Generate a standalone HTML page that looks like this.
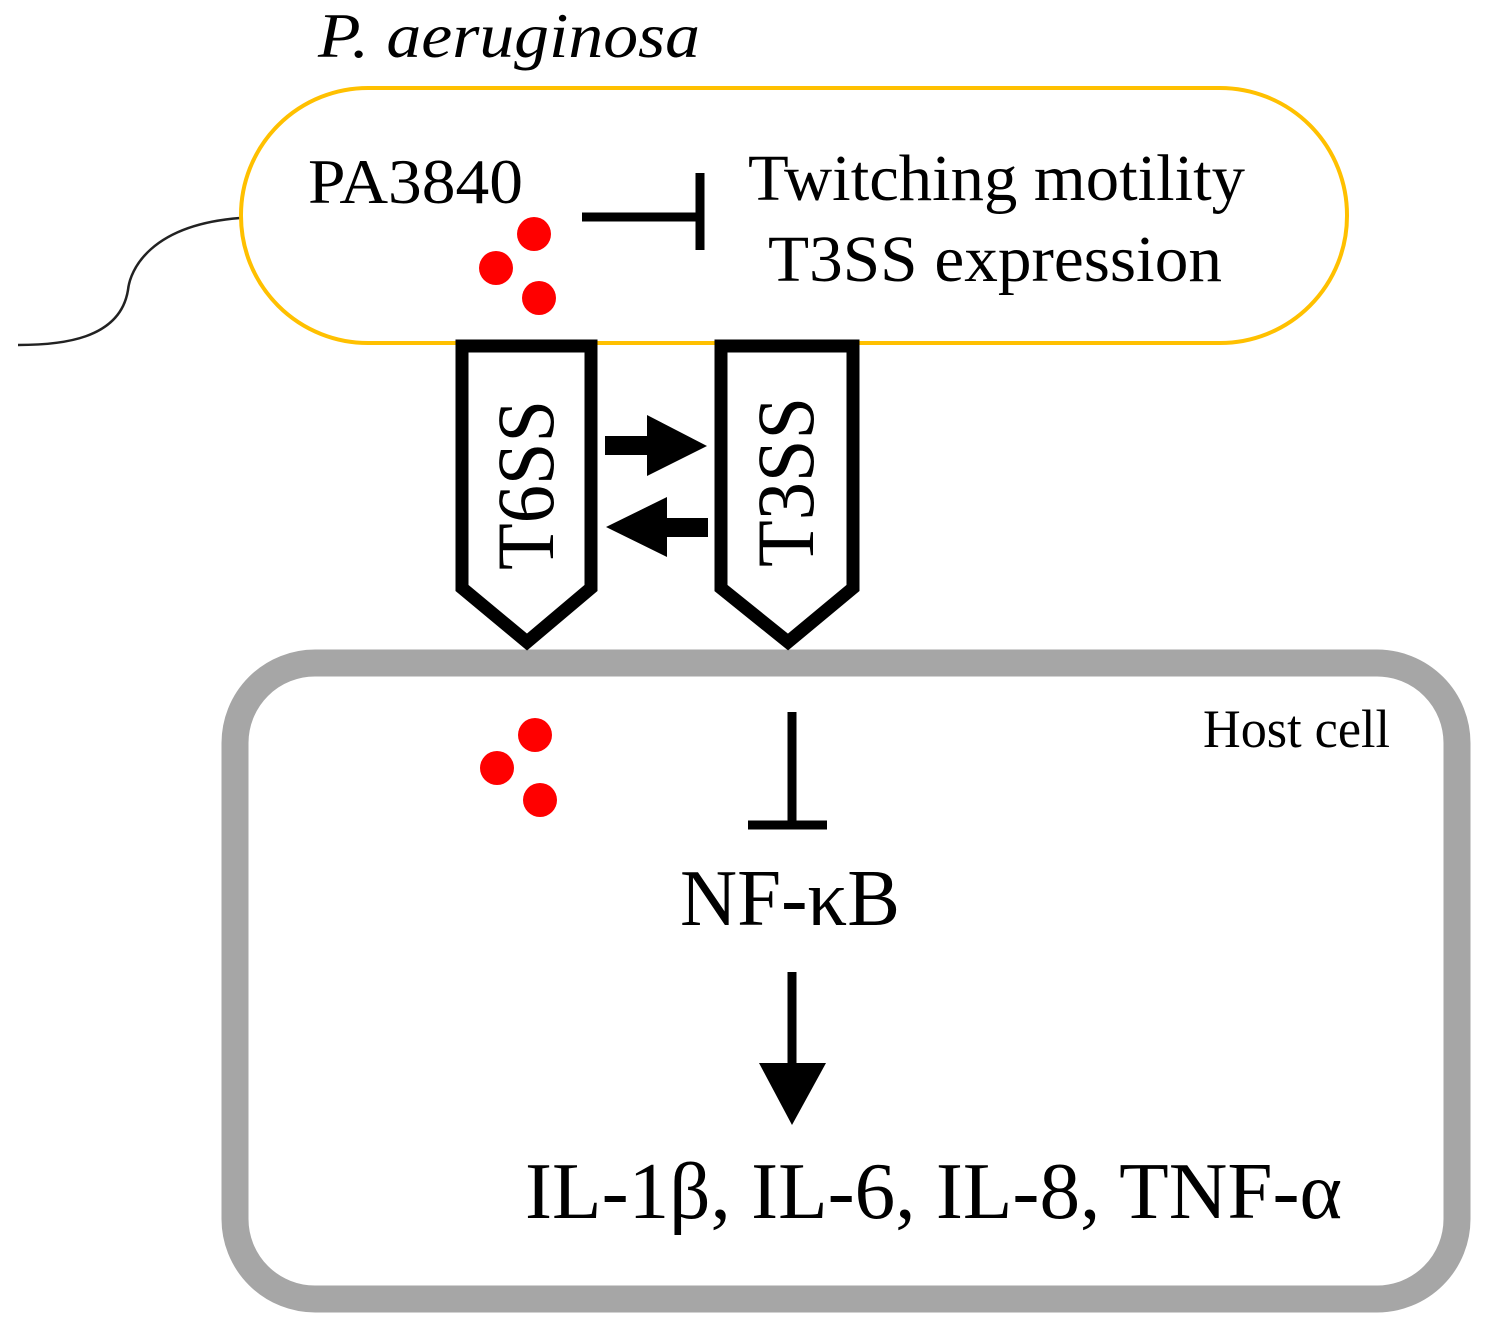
<!DOCTYPE html>
<html><head><meta charset="utf-8"><style>html,body{margin:0;padding:0;background:#fff}svg{display:block}</style></head>
<body>
<svg width="1486" height="1319" viewBox="0 0 1486 1319" xmlns="http://www.w3.org/2000/svg" font-family="'Liberation Serif', serif">
<text x="318" y="57" font-size="64" font-style="italic" textLength="382" lengthAdjust="spacingAndGlyphs">P. aeruginosa</text>
<path d="M240,218 C150,225 130,270 128,290 C120,340 60,345 18,345" fill="none" stroke="#222" stroke-width="2.5"/>
<rect x="241" y="88" width="1106" height="255" rx="127" ry="127" fill="#fff" stroke="#FFC000" stroke-width="4"/>
<text x="308" y="203" font-size="64" textLength="215" lengthAdjust="spacingAndGlyphs">PA3840</text>
<circle cx="534" cy="234" r="17" fill="#f00"/>
<circle cx="496" cy="268" r="17" fill="#f00"/>
<circle cx="539" cy="298" r="17" fill="#f00"/>
<line x1="582" y1="217" x2="704" y2="217" stroke="#000" stroke-width="9"/>
<line x1="700" y1="173" x2="700" y2="250" stroke="#000" stroke-width="9"/>
<text x="748" y="200" font-size="66" textLength="497" lengthAdjust="spacingAndGlyphs">Twitching motility</text>
<text x="768" y="281" font-size="66" textLength="454" lengthAdjust="spacingAndGlyphs">T3SS expression</text>
<rect x="235" y="663" width="1222" height="636" rx="80" ry="80" fill="#fff" stroke="#A6A6A6" stroke-width="27"/>
<path d="M462,346 L591,346 L591,588 L527,642 L462,588 Z" fill="#fff" stroke="#000" stroke-width="13" stroke-linejoin="miter"/>
<path d="M721,346 L853,346 L853,588 L788,642 L721,588 Z" fill="#fff" stroke="#000" stroke-width="13" stroke-linejoin="miter"/>
<text transform="translate(553,570) rotate(-90)" font-size="82" textLength="170" lengthAdjust="spacingAndGlyphs">T6SS</text>
<text transform="translate(813,567) rotate(-90)" font-size="82" textLength="170" lengthAdjust="spacingAndGlyphs">T3SS</text>
<rect x="605" y="436" width="45" height="19" fill="#000"/>
<polygon points="647,415 707,446 647,476" fill="#000"/>
<rect x="665" y="518" width="43" height="19" fill="#000"/>
<polygon points="667,497 606,527 667,557" fill="#000"/>
<text x="1203" y="747" font-size="54" textLength="187" lengthAdjust="spacingAndGlyphs">Host cell</text>
<circle cx="535" cy="735" r="17" fill="#f00"/>
<circle cx="497" cy="768" r="17" fill="#f00"/>
<circle cx="540" cy="800" r="17" fill="#f00"/>
<line x1="792" y1="712" x2="792" y2="826" stroke="#000" stroke-width="9"/>
<line x1="748" y1="825" x2="827" y2="825" stroke="#000" stroke-width="9"/>
<text x="680" y="925" font-size="80" textLength="220" lengthAdjust="spacingAndGlyphs">NF-κB</text>
<line x1="792" y1="972" x2="792" y2="1065" stroke="#000" stroke-width="9"/>
<polygon points="759,1063 826,1063 792,1125" fill="#000"/>
<text x="525" y="1218" font-size="80" textLength="817" lengthAdjust="spacingAndGlyphs">IL-1β, IL-6, IL-8, TNF-α</text>
</svg>
</body></html>
